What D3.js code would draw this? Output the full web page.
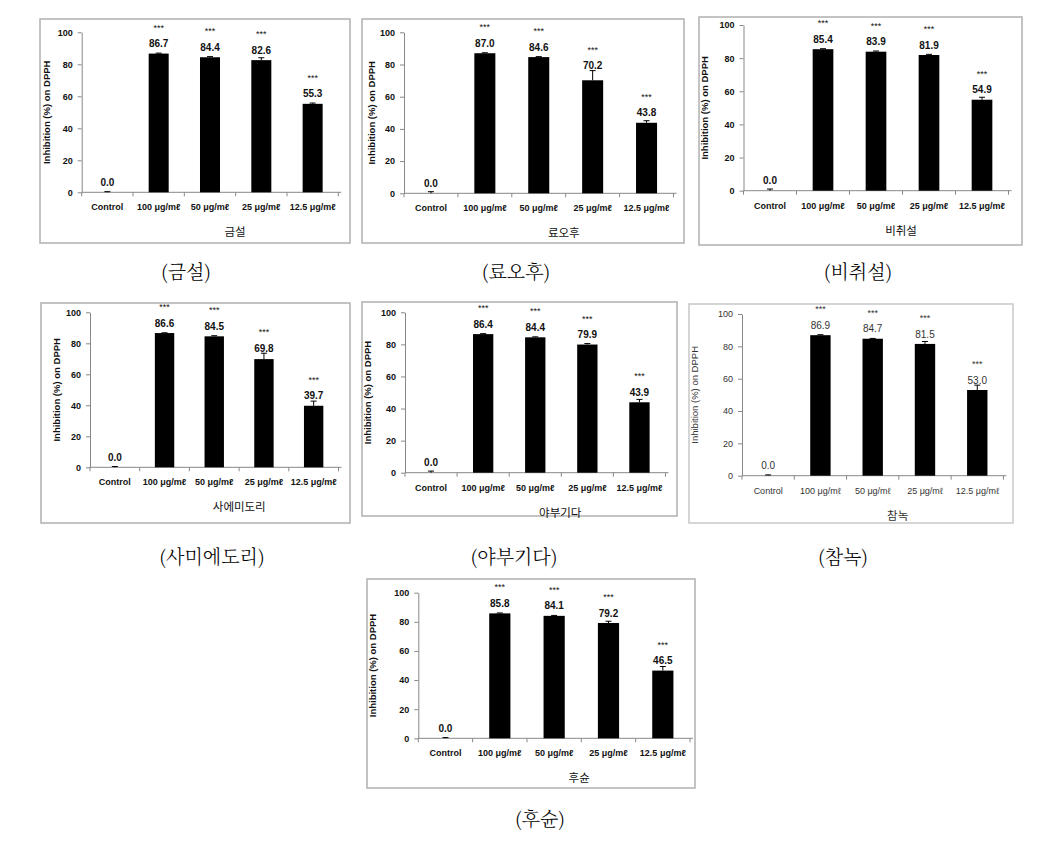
<!DOCTYPE html>
<html><head><meta charset="utf-8">
<script src="https://cdn.jsdelivr.net/npm/d3@7"></script>
<style>body{margin:0;background:#fff}svg{display:block}</style>
</head><body>
<script>
// ---- data ----
const panelTitles = ["금설","료오후","비취설","사에미도리","야부기다","참녹","후슌"];
const captions = ["(금설)","(료오후)","(비취설)","(사미에도리)","(야부기다)","(참녹)","(후슌)"];
const categories = ["Control","100 μg/mℓ","50 μg/mℓ","25 μg/mℓ","12.5 μg/mℓ"];
const sigMarks = ["","***","***","***","***"];
const yTicks = [0,20,40,60,80,100];
const yAxisLabel = "Inhibition (%)  on DPPH";

const valsGeumseol   = [0.0, 86.7, 84.4, 82.6, 55.3];
const errsGeumseol   = [0.4, 0.3, 0.4, 1.5, 0.5];
const valsRyofu      = [0.0, 87.0, 84.6, 70.2, 43.8];
const errsRyofu      = [1.0, 0.3, 0.3, 6.0, 1.3];
const valsBichwiseol = [0.0, 85.4, 83.9, 81.9, 54.9];
const errsBichwiseol = [1.0, 0.3, 0.4, 0.4, 1.5];
const valsSaemidori  = [0.0, 86.6, 84.5, 69.8, 39.7];
const errsSaemidori  = [0.5, 0.2, 0.4, 3.8, 3.0];
const valsYabukita   = [0.0, 86.4, 84.4, 79.9, 43.9];
const errsYabukita   = [1.0, 0.3, 0.3, 0.6, 1.8];
const valsChamnok    = [0.0, 86.9, 84.7, 81.5, 53.0];
const errsChamnok    = [0.5, 0.3, 0.2, 1.5, 3.0];
const valsFushun     = [0.0, 85.8, 84.1, 79.2, 46.5];
const errsFushun     = [0.5, 0.3, 0.3, 1.2, 2.8];

const allVals = [valsGeumseol, valsRyofu, valsBichwiseol, valsSaemidori, valsYabukita, valsChamnok, valsFushun];
const allErrs = [errsGeumseol, errsRyofu, errsBichwiseol, errsSaemidori, errsYabukita, errsChamnok, errsFushun];

// ---- layout (positions only) ----
const layout = [
  {frame:[40,19,310,224],   x0:81.7, x1:338.3, y100:32.3, y0:192.3, ylabX:46.7, capX:186, capY:279, light:false},
  {frame:[362,19,322,224],  x0:404,  x1:673.5, y100:32.3, y0:193.3, ylabX:371.5,capX:516, capY:279, light:false},
  {frame:[699,17,323,228],  x0:743.5,x1:1008.5,y100:25,   y0:190.7, ylabX:705,  capX:858, capY:279, light:false},
  {frame:[41,303,309,220],  x0:90,   x1:338.5, y100:312.3,y0:467.3, ylabX:56.7, capX:212, capY:564, light:false},
  {frame:[362,302,315,214], x0:405,  x1:665.5, y100:312.3,y0:472.7, ylabX:368.3,capX:514, capY:564, light:false},
  {frame:[689,304,324,219], x0:742,  x1:1003.4,y100:314,  y0:475.7, ylabX:695,  capX:843, capY:564, light:true},
  {frame:[367,579,328,209], x0:418.3,x1:690,   y100:592.7,y0:738.3, ylabX:373.3,capX:540, capY:826, light:false}
];

const W = 1053, H = 858;
const svg = d3.select("body").append("svg").attr("width", W).attr("height", H);
const FONT = "'Liberation Sans', Arial, 'Noto Sans CJK KR', sans-serif";

layout.forEach((L, pi) => {
  const vals = allVals[pi], errs = allErrs[pi];
  const data = categories.map((c, i) => ({c, v: vals[i], e: errs[i], s: sigMarks[i]}));
  const g = svg.append("g");
  const weight = L.light ? "normal" : "bold";
  const txtCol = L.light ? "#333" : "#111";

  // frame
  g.append("rect").attr("x", L.frame[0]).attr("y", L.frame[1])
    .attr("width", L.frame[2]).attr("height", L.frame[3])
    .attr("fill", "none").attr("stroke", L.light ? "#c8c8c8" : "#b0b0b0").attr("stroke-width", 1.5);

  const x = d3.scaleBand().domain(categories).range([L.x0, L.x1])
    .paddingInner(0.61).paddingOuter(0.305);
  const y = d3.scaleLinear().domain([0, 100]).range([L.y0, L.y100]);

  // y axis
  const yAx = g.append("g").attr("transform", `translate(${L.x0},0)`)
    .call(d3.axisLeft(y).tickValues(yTicks).tickSize(4).tickPadding(5).tickSizeOuter(0));
  yAx.select(".domain").attr("stroke", "#888");
  yAx.selectAll(".tick line").attr("stroke", "#888");
  yAx.selectAll(".tick text").attr("font-family", FONT).attr("font-size", 9)
    .attr("font-weight", weight).attr("fill", txtCol);

  // x axis (line + boundary ticks)
  g.append("line").attr("x1", L.x0).attr("x2", L.x1 + 3).attr("y1", L.y0).attr("y2", L.y0)
    .attr("stroke", "#888");
  const step = x.step();
  g.selectAll("line.xt").data(d3.range(categories.length + 1)).join("line")
    .attr("x1", i => L.x0 + i * step).attr("x2", i => L.x0 + i * step)
    .attr("y1", L.y0).attr("y2", L.y0 + 4).attr("stroke", "#888");
  g.selectAll("text.xl").data(categories).join("text")
    .attr("x", d => x(d) + x.bandwidth() / 2).attr("y", L.y0 + 18)
    .attr("text-anchor", "middle").attr("font-family", FONT).attr("font-size", 9)
    .attr("font-weight", weight).attr("fill", txtCol).text(d => d);

  // bars
  g.selectAll("rect.bar").data(data).join("rect")
    .attr("x", d => x(d.c)).attr("width", x.bandwidth())
    .attr("y", d => y(d.v)).attr("height", d => y(0) - y(d.v)).attr("fill", "#000");

  // error bars (upper)
  const eb = g.selectAll("g.eb").data(data).join("g");
  eb.append("line").attr("x1", d => x(d.c) + x.bandwidth() / 2).attr("x2", d => x(d.c) + x.bandwidth() / 2)
    .attr("y1", d => y(d.v)).attr("y2", d => y(d.v + d.e)).attr("stroke", "#000").attr("stroke-width", 1);
  eb.append("line").attr("x1", d => x(d.c) + x.bandwidth() / 2 - 3).attr("x2", d => x(d.c) + x.bandwidth() / 2 + 3)
    .attr("y1", d => y(d.v + d.e)).attr("y2", d => y(d.v + d.e)).attr("stroke", "#000").attr("stroke-width", 1);

  // value labels and significance
  const labY = d => Math.min(y(d.v) - 10, y(d.v + d.e) - 5);
  g.selectAll("text.vl").data(data).join("text")
    .attr("x", d => x(d.c) + x.bandwidth() / 2).attr("y", d => labY(d) + 3.6)
    .attr("text-anchor", "middle").attr("font-family", FONT).attr("font-size", 10)
    .attr("font-weight", weight).attr("fill", txtCol).text(d => d.v.toFixed(1));
  g.selectAll("text.sg").data(data.filter(d => d.s)).join("text")
    .attr("x", d => x(d.c) + x.bandwidth() / 2).attr("y", d => labY(d) - 17.5 + 4.5)
    .attr("text-anchor", "middle").attr("font-family", FONT).attr("font-size", 9)
    .attr("fill", txtCol).text(d => d.s);

  // y axis label
  const ym = (L.y0 + L.y100) / 2;
  g.append("text").attr("transform", `translate(${L.ylabX + 3},${ym}) rotate(-90)`)
    .attr("text-anchor", "middle").attr("font-family", FONT).attr("font-size", 9.5)
    .attr("font-weight", weight).attr("fill", txtCol).text(yAxisLabel);

  // x axis title
  g.append("text").attr("x", (L.x0 + L.x1) / 2 + 25).attr("y", L.y0 + 44)
    .attr("text-anchor", "middle").attr("font-family", "'Noto Sans CJK KR', sans-serif")
    .attr("font-size", 11.5).attr("fill", txtCol).text(panelTitles[pi]);

  // caption
  svg.append("text").attr("x", L.capX).attr("y", L.capY)
    .attr("text-anchor", "middle").attr("font-family", "'Noto Serif CJK KR', 'Noto Sans CJK KR', serif")
    .attr("font-size", 19).attr("font-weight", 300).attr("fill", "#000").text(captions[pi]);
});
</script>
</body></html>
